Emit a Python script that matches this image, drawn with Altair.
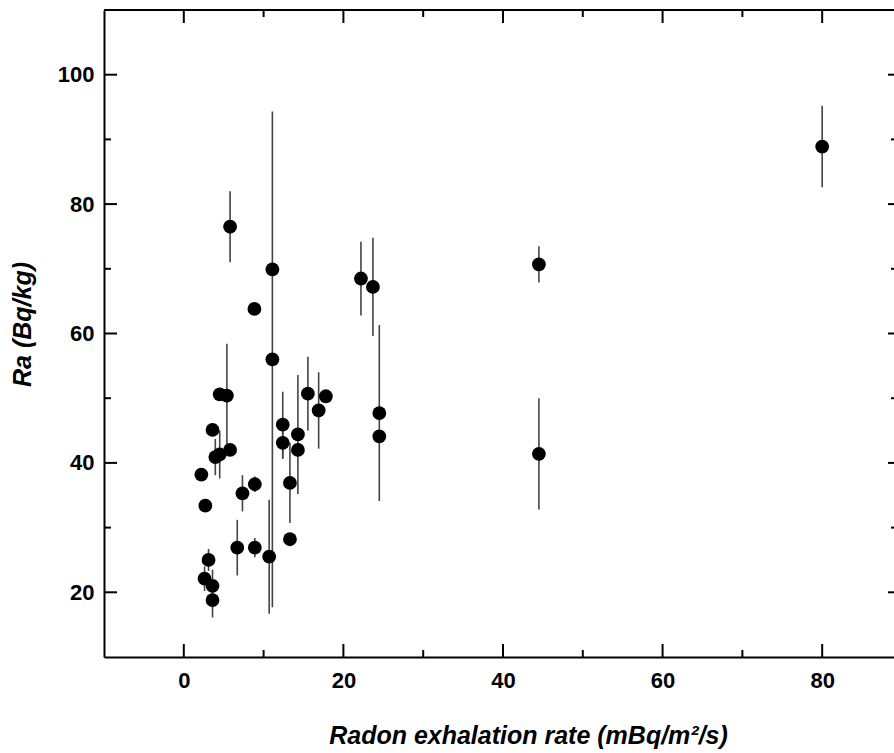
import altair as alt
import pandas as pd

# Data
rate = [2.2, 2.7, 3.1, 2.6, 3.6, 3.6, 3.6, 3.95, 4.5, 5.8, 4.5, 5.4, 5.8, 6.7, 7.35,
        8.85, 8.9, 8.9, 10.7, 11.1, 11.1, 12.4, 12.4, 13.3, 13.3, 14.3, 14.3, 15.55,
        16.9, 17.8, 22.2, 23.7, 24.5, 24.5, 44.5, 44.5, 80.0]
ra = [38.2, 33.4, 25.0, 22.1, 21.0, 18.8, 45.1, 40.9, 41.3, 42.0, 50.6, 50.4, 76.5, 26.9, 35.3,
      63.8, 36.7, 26.9, 25.5, 69.9, 56.0, 45.9, 43.1, 36.9, 28.2, 44.4, 42.0, 50.7,
      48.1, 50.3, 68.5, 67.2, 47.7, 44.1, 70.7, 41.4, 88.9]
ra_err = [0, 0, 1.7, 1.9, 2.5, 2.7, 0, 2.8, 3.7, 0, 0, 8.0, 5.5, 4.3, 2.8,
          0, 1.2, 1.5, 8.8, 0, 38.3, 5.1, 2.5, 6.2, 0, 9.2, 0, 5.7,
          5.9, 0, 5.7, 7.6, 13.6, 0, 2.8, 8.6, 6.3]

x_major = [0, 20, 40, 60, 80]
x_minor = [10, 30, 50, 70]
y_major = [20, 40, 60, 80, 100]
y_minor = [30, 50, 70, 90]

W, H = 790, 647
FONT = "Liberation Sans"

df = pd.DataFrame({
    "rate": rate,
    "ra": ra,
    "lo": [a - e for a, e in zip(ra, ra_err)],
    "hi": [a + e for a, e in zip(ra, ra_err)],
})

xs = alt.Scale(domain=[-10, 89], nice=False, zero=False)
ys = alt.Scale(domain=[10, 110], nice=False, zero=False)

XTITLE = "Radon exhalation rate (mBq/m²/s)"
YTITLE = "Ra (Bq/kg)"

xaxis = alt.Axis(
    values=x_major, ticks=False, grid=False, format="d",
    domainColor="black", domainWidth=2,
    labelFont=FONT, labelFontSize=22, labelFontWeight="bold", labelColor="black",
    labelPadding=13,
    title=XTITLE,
    titleFont=FONT, titleFontSize=25, titleFontWeight="bold", titleFontStyle="italic",
    titleColor="black", titleX=424, titleY=86, titleAlign="center", titleBaseline="alphabetic",
)
yaxis = alt.Axis(
    values=y_major, ticks=False, grid=False, format="d",
    domainColor="black", domainWidth=2,
    labelFont=FONT, labelFontSize=22, labelFontWeight="bold", labelColor="black",
    labelPadding=10,
    title=YTITLE,
    titleFont=FONT, titleFontSize=25, titleFontWeight="bold", titleFontStyle="italic",
    titleColor="black", titleX=-82, titleY=314, titleAlign="center", titleBaseline="middle",
)

err = alt.Chart(df).mark_rule(color="#444444", strokeWidth=1.6).encode(
    x=alt.X("rate:Q", scale=xs, axis=xaxis, title=XTITLE),
    y=alt.Y("lo:Q", scale=ys, axis=yaxis, title=YTITLE),
    y2="hi:Q",
)
pts = alt.Chart(df).mark_circle(size=190, color="black", opacity=1).encode(
    x=alt.X("rate:Q", scale=xs, axis=xaxis, title=XTITLE),
    y=alt.Y("ra:Q", scale=ys, axis=yaxis, title=YTITLE),
)

xmaj = pd.DataFrame({"rate": x_major})
xmin = pd.DataFrame({"rate": x_minor})
ymaj = pd.DataFrame({"ra": y_major})
ymin = pd.DataFrame({"ra": y_minor})

def xticks(d, y0, y1):
    return alt.Chart(d).mark_rule(color="black", strokeWidth=2).encode(
        x=alt.X("rate:Q", scale=xs, axis=xaxis, title=XTITLE),
        y=alt.value(y0), y2=alt.value(y1))

def yticks(d, x0, x1):
    return alt.Chart(d).mark_rule(color="black", strokeWidth=2).encode(
        y=alt.Y("ra:Q", scale=ys, axis=yaxis, title=YTITLE),
        x=alt.value(x0), x2=alt.value(x1))

ticks = [
    xticks(xmaj, H, H - 13), xticks(xmin, H, H - 7),
    xticks(xmaj, 0, 13), xticks(xmin, 0, 7),
    yticks(ymaj, 0, 13), yticks(ymin, 0, 7),
    yticks(ymaj, W - 6, W), yticks(ymin, W - 3, W),
]

top_line = alt.Chart(xmaj).mark_rule(color="black", strokeWidth=2).encode(
    x=alt.value(0), x2=alt.value(W), y=alt.value(0))

chart = alt.layer(err, *ticks, top_line, pts).properties(
    width=W, height=H,
    padding={"left": 104, "top": 10, "right": 0, "bottom": 96},
    autosize=alt.AutoSizeParams(type="none"),
    background="white",
).configure_view(stroke=None)

chart.save("out.html", embed_options={"renderer": "svg", "actions": False})
